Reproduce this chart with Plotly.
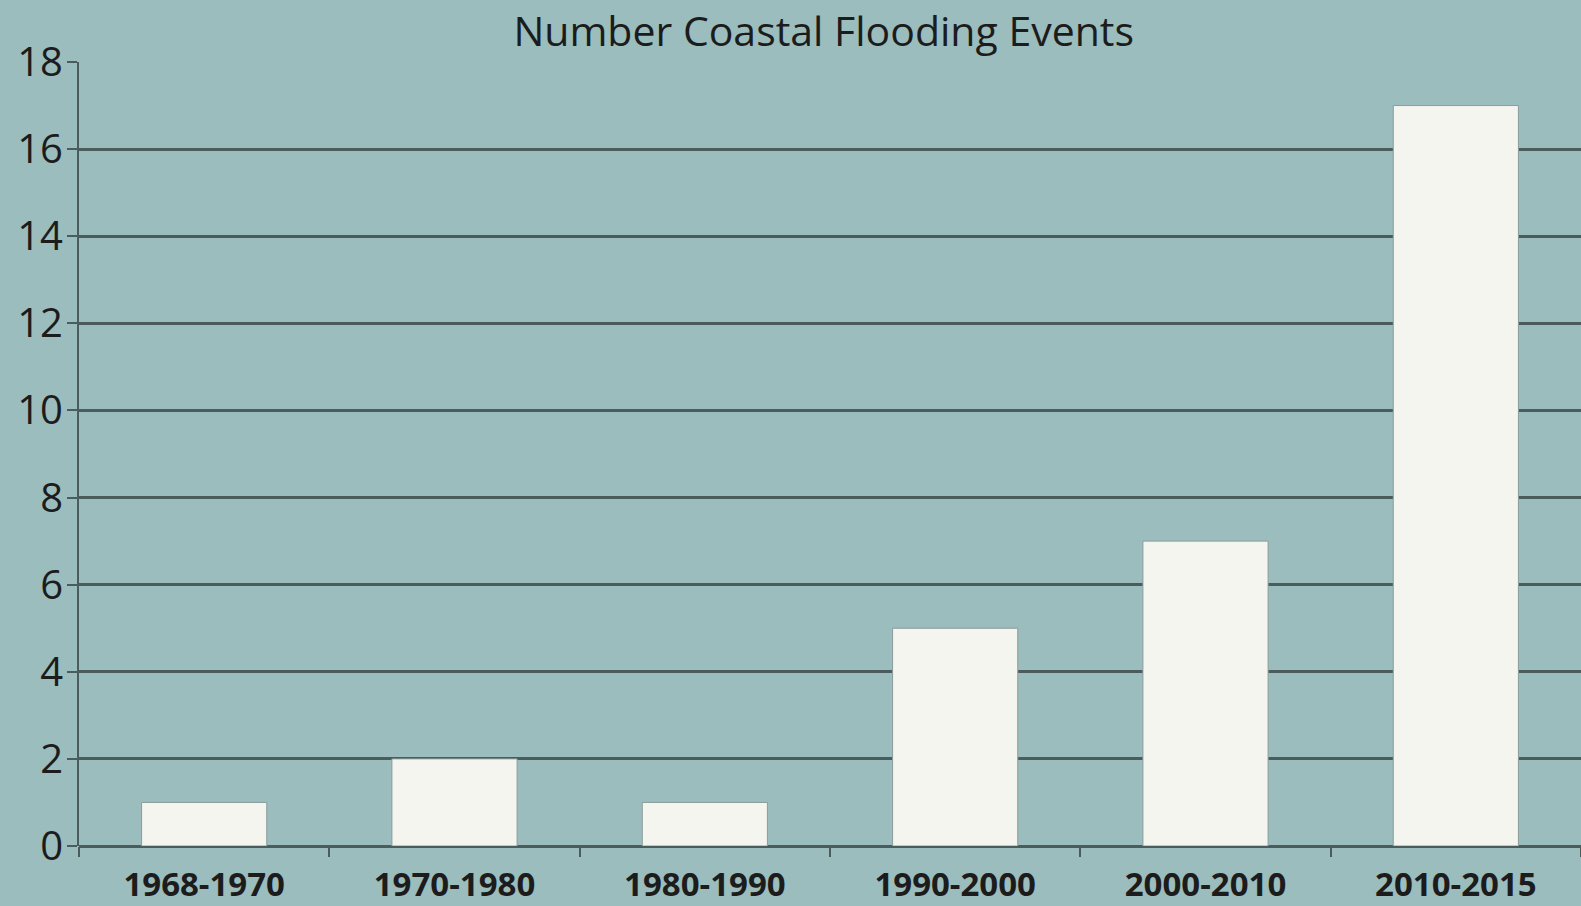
import plotly.graph_objects as go

# Flood event counts per period
periods = ["1968-1970", "1970-1980", "1980-1990", "1990-2000", "2000-2010", "2010-2015"]
events = [1, 2, 1, 5, 7, 17]
y_ticks = [0, 2, 4, 6, 8, 10, 12, 14, 16, 18]

bg = "#9bbdbd"
grid = "#4a5c5c"
text = "#1c1c1c"

fig = go.Figure(
    go.Bar(
        x=periods,
        y=events,
        marker=dict(color="#f5f5f0", line=dict(color="#8a9c9c", width=1)),
        hoverinfo="x+y",
    )
)

fig.update_layout(
    width=1581,
    height=906,
    paper_bgcolor=bg,
    plot_bgcolor=bg,
    margin=dict(l=79, r=0, t=62, b=55),
    bargap=0.5,
    showlegend=False,
    title=dict(
        text="Number Coastal Flooding Events",
        x=0.521,
        xanchor="center",
        y=0.965,
        yanchor="middle",
        font=dict(family="Open Sans", size=41, color=text),
    ),
    font=dict(family="Open Sans", color=text),
)

fig.update_xaxes(
    type="category",
    tickson="boundaries",
    ticks="outside",
    ticklen=10,
    tickwidth=2,
    tickcolor=grid,
    showline=False,
    showgrid=False,
    tickfont=dict(family="Open Sans", size=33, color=text, weight="bold"),
    ticklabelstandoff=16,
)

fig.update_yaxes(
    range=[0, 18],
    tickvals=y_ticks,
    ticks="outside",
    ticklen=10,
    tickwidth=2,
    tickcolor=grid,
    showline=True,
    linecolor=grid,
    linewidth=2,
    showgrid=True,
    gridcolor=grid,
    gridwidth=2.5,
    zeroline=True,
    zerolinecolor=grid,
    zerolinewidth=2.5,
    tickfont=dict(family="Open Sans", size=40, color=text),
    ticklabelstandoff=-4,
)

fig.write_html("out.html")
